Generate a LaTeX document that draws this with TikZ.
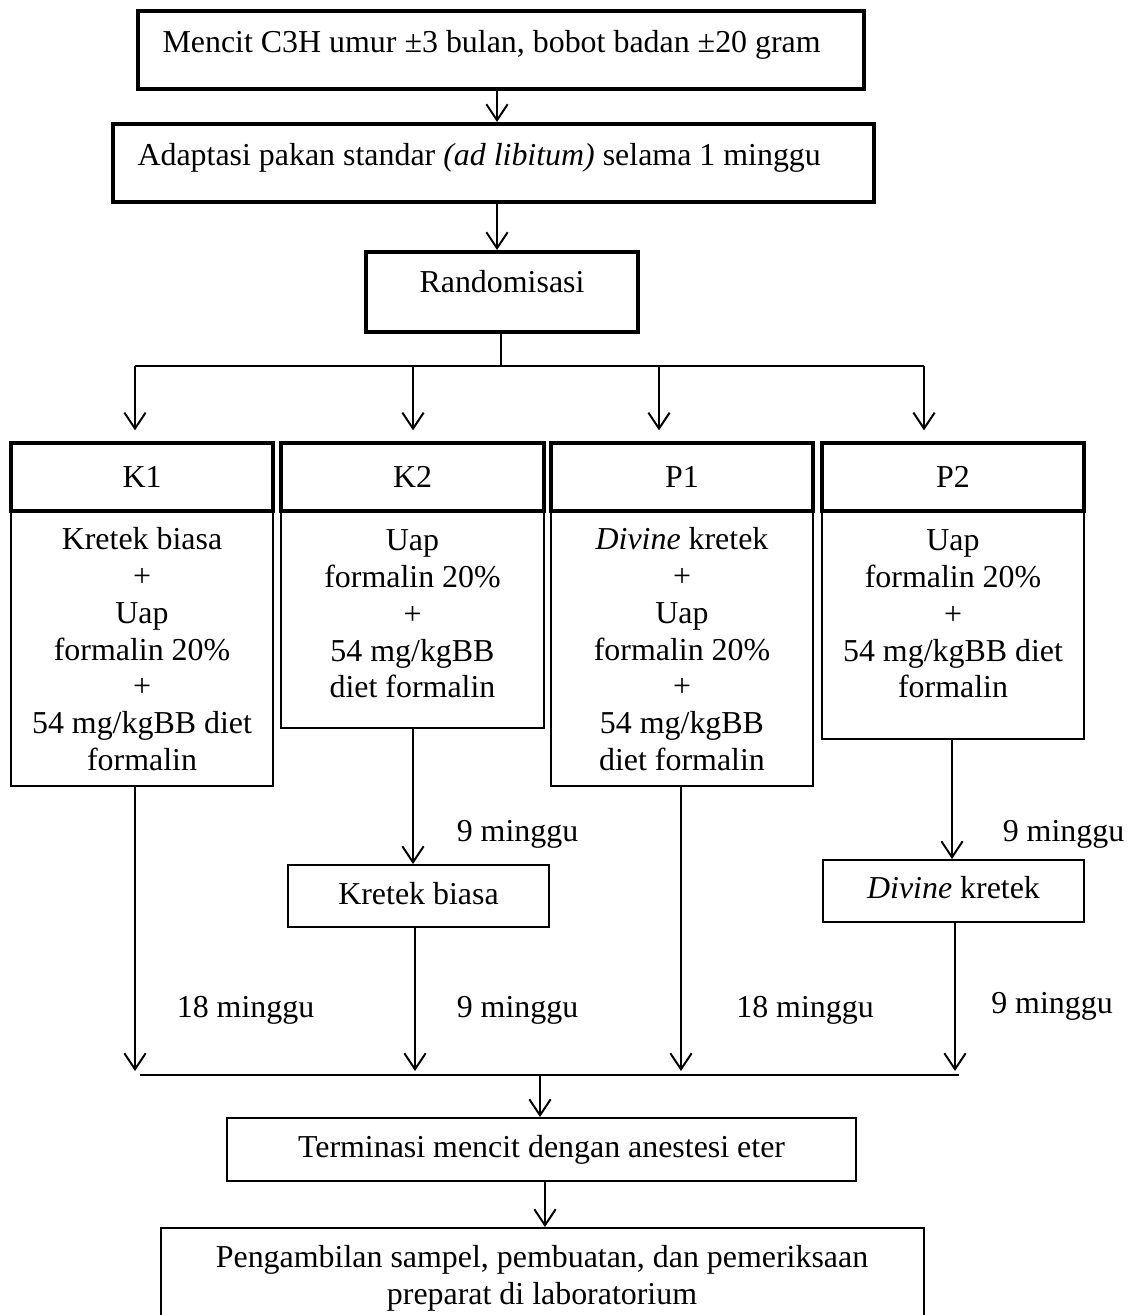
\documentclass[tikz,border=0pt]{standalone}
\usepackage{fontspec}
\setmainfont{Liberation Serif}
\usetikzlibrary{fit,arrows.meta}
\newcommand{\mystrut}{\rule{0pt}{10pt}}
\begin{document}
\begin{tikzpicture}[x=0.376pt,y=-0.376pt,
  font=\fontsize{12}{13.85}\selectfont,
  thickbox/.style={draw, line width=1.5pt, inner sep=0pt},
  thinbox/.style={draw, line width=0.75pt, inner sep=0pt},
  txt/.style={inner sep=0pt},
  multi/.style={inner sep=0pt, anchor=north, align=center},
  conn/.style={line width=0.75pt},
  arr/.style={conn, -{Straight Barb[length=6pt,width=8pt,line width=0.75pt]}}]
\useasboundingbox (0,0) rectangle (1136,1315);

% top boxes
\node[thickbox, fit={(138,11)(864,89)}] (b1) {};
\node[txt, anchor=base west] (b1t) at (162,53) {Mencit C3H umur ±3 bulan, bobot badan ±20 gram};
\node[thickbox, fit={(113,124)(874,202)}] (b2) {};
\node[txt, anchor=base west] (b2t) at (137,166) {Adaptasi pakan standar \textit{(ad libitum)} selama 1 minggu};
\node[thickbox, fit={(366,252)(638,332)}] (b3) {};
\node[txt, anchor=base] (b3t) at (502,293) {Randomisasi};

\coordinate (a1) at (497,0);
\draw[arr] (b1.south -| a1) -- (b2.north -| a1);
\draw[arr] (b2.south -| a1) -- (b3.north -| a1);

% distribution line
\coordinate (c1) at (135,366);
\coordinate (c2) at (413,366);
\coordinate (c3) at (659,366);
\coordinate (c4) at (924,366);
\draw[conn] (b3.south -| 501,0) -- (501,366);
\draw[conn] (c1) -- (c4);

% group bodies
\node[thinbox, fit={(11,511)(273,786)}] (K1b) {};
\node[thinbox, fit={(281,511)(544,728)}] (K2b) {};
\node[thinbox, fit={(551,511)(813,786)}] (P1b) {};
\node[thinbox, fit={(822,511)(1084,739)}] (P2b) {};
% group headers
\node[thickbox, fit={(11,443)(273,511)}] (K1h) {};
\node[thickbox, fit={(281,443)(544,511)}] (K2h) {};
\node[thickbox, fit={(551,443)(813,511)}] (P1h) {};
\node[thickbox, fit={(822,443)(1084,511)}] (P2h) {};
\node[txt, anchor=base] (K1ht) at (142,487) {K1};
\node[txt, anchor=base] (K2ht) at (412.5,487) {K2};
\node[txt, anchor=base] (P1ht) at (682,487) {P1};
\node[txt, anchor=base] (P2ht) at (953,487) {P2};

\node[multi] (K1bt) at (142,522.4) {\mystrut Kretek biasa\\+\\Uap\\formalin 20\%\\+\\54 mg/kgBB diet\\formalin};
\node[multi] (K2bt) at (412.5,523.4) {\mystrut Uap\\formalin 20\%\\+\\54 mg/kgBB\\diet formalin};
\node[multi] (P1bt) at (682,522.4) {\mystrut\textit{Divine} kretek\\+\\Uap\\formalin 20\%\\+\\54 mg/kgBB\\diet formalin};
\node[multi] (P2bt) at (953,523.4) {\mystrut Uap\\formalin 20\%\\+\\54 mg/kgBB diet\\formalin};

\draw[arr, shorten >=4pt] (c1) -- (c1 |- K1h.north);
\draw[arr, shorten >=4pt] (c2) -- (c2 |- K2h.north);
\draw[arr, shorten >=4pt] (c3) -- (c3 |- P1h.north);
\draw[arr, shorten >=4pt] (c4) -- (c4 |- P2h.north);

% intermediate boxes
\node[thinbox, fit={(288,865)(549,927)}] (kb) {};
\node[txt, anchor=base] (kbt) at (418.5,904) {Kretek biasa};
\node[thinbox, fit={(823,860)(1084,922)}] (dk) {};
\node[txt, anchor=base] (dkt) at (953.5,898) {\textit{Divine} kretek};

% collecting line
\coordinate (d1) at (135,1075);
\coordinate (d2) at (415,1075);
\coordinate (d3) at (681,1075);
\coordinate (d4) at (955,1075);
\coordinate (u2) at (413,0);
\coordinate (u4) at (952,0);
\coordinate (eL) at (140,1075);
\coordinate (eR) at (959,1075);
\coordinate (eM) at (540,1075);

\draw[arr] (K2b.south -| u2) -- (u2 |- kb.north);
\draw[arr] (P2b.south -| u4) -- (u4 |- dk.north);
\draw[arr, shorten >=1.5pt] (K1b.south -| d1) -- (d1);
\draw[arr, shorten >=1.5pt] (kb.south -| d2) -- (d2);
\draw[arr, shorten >=1.5pt] (P1b.south -| d3) -- (d3);
\draw[arr, shorten >=1.5pt] (dk.south -| d4) -- (d4);
\draw[conn] (eL) -- (eR);

% duration labels
\node[txt, anchor=base] (l1) at (517.5,841) {9 minggu};
\node[txt, anchor=base] (l2) at (1063.5,841) {9 minggu};
\node[txt, anchor=base] (l3) at (245.5,1017) {18 minggu};
\node[txt, anchor=base] (l4) at (517.5,1017) {9 minggu};
\node[txt, anchor=base] (l5) at (805,1017) {18 minggu};
\node[txt, anchor=base] (l6) at (1052,1013) {9 minggu};

% final boxes
\node[thinbox, fit={(227,1118)(856,1181)}] (term) {};
\node[txt, anchor=base] (termt) at (541.5,1157) {Terminasi mencit dengan anestesi eter};
\node[thinbox, fit={(161,1228)(924,1325)}] (last) {};
\node[multi] (lastt) at (542,1240.4) {\mystrut Pengambilan sampel, pembuatan, dan pemeriksaan\\preparat di laboratorium};

\coordinate (f) at (545,0);
\draw[arr] (eM) -- (eM |- term.north);
\draw[arr] (term.south -| f) -- (f |- last.north);
\end{tikzpicture}
\end{document}
